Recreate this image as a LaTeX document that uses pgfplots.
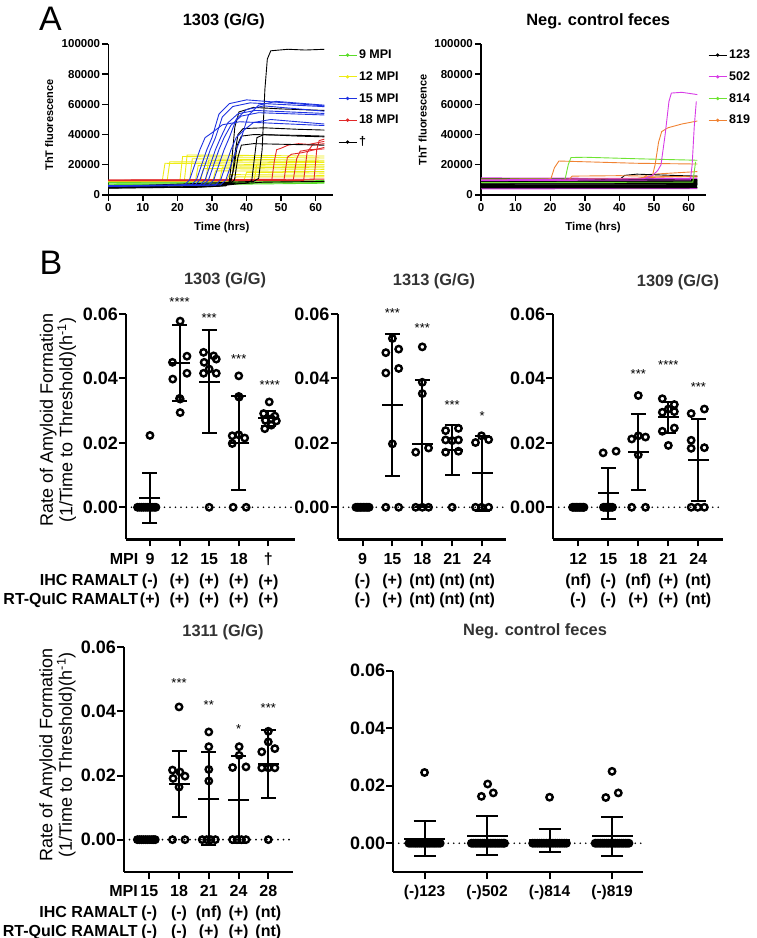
\documentclass[border=0pt]{standalone}
\usepackage{fontspec}
\setmainfont{Liberation Sans}
\usepackage{pgfplots}
\pgfplotsset{compat=1.18}
\definecolor{cgreen}{RGB}{90,220,40}
\definecolor{cyellow}{RGB}{238,236,20}
\definecolor{cblue}{RGB}{30,50,225}
\definecolor{cred}{RGB}{225,40,40}
\definecolor{cpink}{RGB}{215,60,230}
\definecolor{cgreenb}{RGB}{110,228,50}
\definecolor{corange}{RGB}{240,130,50}
\newcommand{\fs}[1]{\fontsize{#1}{#1}\selectfont}
\tikzset{stars/.style={font=\fs{13}}}
\pgfplotsset{
  cv/.style={forget plot, line width=0.9pt},
  bd/.style={forget plot, line width=1.3pt},
  panelA/.style={
    scale only axis, width=224.7pt, height=151pt,
    xmin=0, xmax=65, ymin=0, ymax=100000, scaled ticks=false,
    axis x line*=bottom, axis y line*=left,
    axis line style={line width=1.4pt},
    tick style={line width=1.4pt, black},
    tick align=outside, major tick length=6pt,
    xtick={0,10,20,30,40,50,60}, xticklabels={0,10,20,30,40,50,60},
    ytick={0,20000,40000,60000,80000,100000},
    yticklabels={0,20000,40000,60000,80000,100000},
    tick label style={font=\bfseries\fs{11.5}, inner sep=2pt},
    title style={font=\bfseries\fs{16.4}, anchor=center},
    xlabel={Time (hrs)},
    xlabel style={font=\bfseries\fs{11.5}, anchor=center},
    ylabel={ThT fluorescence},
    ylabel style={font=\bfseries\fs{11}, anchor=center},
    legend style={draw=none, fill=none, anchor=north west, font=\bfseries\fs{12.5}, row sep=7.5pt, inner sep=0pt},
    legend cell align=left,
    legend image code/.code={\draw[#1] (0pt,0pt) -- (18pt,0pt); \fill[#1] (9pt,0pt) circle (1.2pt);},
  },
  panelB/.style={
    scale only axis, ymin=-0.01, ymax=0.06, clip=false, scaled ticks=false,
    axis x line*=bottom, axis y line*=left,
    axis line style={line width=2.2pt},
    tick style={line width=2pt, black},
    tick align=outside, major tick length=7pt,
    ytick={0,0.02,0.04,0.06}, yticklabels={0.00,0.02,0.04,0.06},
    yticklabel style={font=\bfseries\fs{18}, inner sep=1pt},
    xtick={0,1,2,3,4},
    xticklabel style={font=\bfseries\fontsize{16}{18.5}\selectfont, align=center, yshift=-3pt},
    title style={font=\bfseries\fs{16.4}, anchor=center, color=black!80},
  },
  ylabB/.style={ylabel={Rate of Amyloid Formation\\(1/Time to Threshold)(h\textsuperscript{-1})},
    ylabel style={font=\fontsize{18}{19.5}\selectfont, align=center, anchor=center}},
  rowlab/.style={extra x ticks={#1},
    extra x tick labels={{MPI\\[3pt]IHC RAMALT\\RT-QuIC RAMALT}},
    extra x tick style={tick style={draw=none}, xticklabel style={anchor=north east, align=right}}},
  pts/.style={only marks, mark=o, mark size=3.2pt, mark options={line width=2.4pt, black}},
  mbar/.style={only marks, mark=-, mark size=10.5pt, mark options={line width=2pt, black},
     error bars/y dir=both, error bars/y explicit,
     error bars/error bar style={line width=2pt, black},
     error bars/error mark options={rotate=90, mark size=7.5pt, line width=2pt, black}},
  mbarN/.style={only marks, mark=-, mark size=20.5pt, mark options={line width=2pt, black},
     error bars/y dir=both, error bars/y explicit,
     error bars/error bar style={line width=2pt, black},
     error bars/error mark options={rotate=90, mark size=11pt, line width=2pt, black}},
  zl/.style={black, line width=1.8pt, line cap=round, dash pattern=on 0pt off 5.5pt},
}
\begin{document}
\begin{tikzpicture}
\useasboundingbox (0,0) rectangle (756pt,938pt);
\node[font=\fs{34}] at (50.5pt,919pt) {A};
\node[font=\fs{34}] at (51pt,675pt) {B};

% ---------------- Panel A left
\begin{axis}[panelA, at={(108.3pt,743pt)}, anchor=south west,
  title={1303 (G/G)}, title style={at={(axis description cs:0.514,1.113)}},
  xlabel style={at={(axis description cs:0.505,-0.2185)}},
  ylabel style={at={(axis description cs:-0.2626,0.4636)}},
  legend style={at={(1.022,0.975)}}]
% green 9 MPI
\addplot[cv, cgreen] coordinates {(0,8800)(20,8900)(40,9200)(62.5,9500)};
\addplot[cv, cgreen] coordinates {(0,8000)(30,8100)(45,8500)(62.5,8700)};
\addplot[cv, cgreen] coordinates {(0,7300)(35,7500)(50,8000)(62.5,8200)};
\addplot[cv, cgreen] coordinates {(0,6800)(40,7200)(62.5,7800)};
\addplot[cv, cgreen] coordinates {(0,8300)(62.5,9000)};
% yellow 12 MPI
\addplot[cv, cyellow] coordinates {(0,9100)(15.6,9200)(16.4,21000)(26,20800)(40,20300)(62.5,20000)};
\addplot[cv, cyellow] coordinates {(0,9000)(17.0,9100)(17.8,22000)(30,21800)(62.5,21500)};
\addplot[cv, cyellow] coordinates {(0,9200)(20.7,9300)(21.5,25500)(40,25000)(62.5,24500)};
\addplot[cv, cyellow] coordinates {(0,9100)(22.0,9200)(22.8,26500)(40,26200)(62.5,25800)};
\addplot[cv, cyellow] coordinates {(0,9000)(23.5,9100)(24.3,24000)(62.5,23000)};
\addplot[cv, cyellow] coordinates {(0,9200)(25.2,9300)(26.0,19500)(62.5,19000)};
\addplot[cv, cyellow] coordinates {(0,9000)(26.7,9200)(27.5,17500)(62.5,17000)};
\addplot[cv, cyellow] coordinates {(0,9100)(28.2,9300)(29.0,23000)(62.5,22000)};
\addplot[cv, cyellow] coordinates {(0,9000)(30.2,9200)(31.0,16000)(62.5,15500)};
\addplot[cv, cyellow] coordinates {(0,9200)(32.2,9300)(33.0,18500)(62.5,18000)};
\addplot[cv, cyellow] coordinates {(0,9000)(34.2,9300)(35.0,13500)(62.5,13000)};
\addplot[cv, cyellow] coordinates {(0,9100)(36.2,9400)(37.0,12000)(62.5,12000)};
\addplot[cv, cyellow] coordinates {(0,9000)(39.2,9500)(40.0,15000)(62.5,14500)};
\addplot[cv, cyellow] coordinates {(0,9200)(42.2,9600)(43.0,20500)(62.5,20000)};
% red 18 MPI
\addplot[cv, cred] coordinates {(0,9800)(47.3,9900)(48,22000)(48.7,30000)(50,31000)(52,33000)(55,34000)(58,33500)(62.5,35500)};
\addplot[cv, cred] coordinates {(0,9500)(50.8,9600)(51.8,25000)(53,27000)(56,28000)(62.5,31500)};
\addplot[cv, cred] coordinates {(0,9700)(53.5,9800)(54.5,24000)(55.5,29000)(58,30000)(62.5,30500)};
\addplot[cv, cred] coordinates {(0,9400)(56.5,9500)(57.5,28000)(59,33000)(62.5,34000)};
\addplot[cv, cred] coordinates {(0,9600)(59.5,10000)(60.3,30000)(61,36000)(62.5,37000)};
\addplot[cv, cred] coordinates {(0,9900)(62.5,10500)};
% black dagger
\addplot[cv, black] coordinates {(0,4800)(25,5000)(33,6000)(35,7500)(36,15000)(36.8,30000)(37.5,40000)(39,44000)(45,44500)(55,43500)(62.5,43000)};
\addplot[cv, black] coordinates {(0,5000)(34,6500)(35.5,9000)(36.5,20000)(37.3,33000)(38.5,39000)(42,40000)(55,39500)(62.5,39000)};
\addplot[cv, black] coordinates {(0,5200)(35,7000)(36.5,10000)(37.5,25000)(38.5,33000)(42,34000)(62.5,33000)};
\addplot[cv, black] coordinates {(0,4600)(34,6000)(35,9000)(35.8,25000)(36.6,45000)(37.8,55000)(42,58000)(50,57000)(62.5,56000)};
\addplot[cv, black] coordinates {(0,5000)(40,8000)(41.5,9500)(42.3,25000)(43,38000)(45,40000)(55,39000)(62.5,38500)};
\addplot[cv, black] coordinates {(0,5500)(42,9000)(43.5,11000)(44.5,30000)(45.3,70000)(46,90000)(47,95500)(52,96500)(57,96000)(62.5,96500)};
\addplot[cv, black] coordinates {(0,4500)(30,5500)(38,7500)(45,8500)(62.5,9000)};
% blue 15 MPI
\addplot[cv, cblue] coordinates {(0,6000)(22,6500)(23.5,10000)(25,20000)(26.5,30000)(28,38000)(30,41200)(33,46500)(38,48500)(62.5,46000)};
\addplot[cv, cblue] coordinates {(0,6200)(24,6600)(25.5,10000)(27,20000)(28.5,30000)(30,38000)(32,53500)(35,60500)(40,63000)(62.5,59000)};
\addplot[cv, cblue] coordinates {(0,5800)(25,6400)(26.5,10000)(28,20000)(29.5,30000)(31,38000)(33,51800)(36,58600)(41,61000)(62.5,58500)};
\addplot[cv, cblue] coordinates {(0,6000)(26.5,6500)(28,10000)(29.5,20000)(31,30000)(32.5,38000)(34.5,47600)(37.5,53800)(42.5,56000)(62.5,54000)};
\addplot[cv, cblue] coordinates {(0,6100)(27.5,6600)(29,10000)(30.5,20000)(32,30000)(33.5,38000)(35.5,46300)(38.5,52300)(43.5,54500)(62.5,53000)};
\addplot[cv, cblue] coordinates {(0,5900)(29,6500)(30.5,10000)(32,20000)(33.5,30000)(35,38000)(37,50200)(40,56600)(45,59000)(62.5,55500)};
\addplot[cv, cblue] coordinates {(0,6000)(31,6500)(32.5,10000)(34,20000)(35.5,30000)(37,38000)(39,42500)(42,48000)(47,50000)(62.5,47000)};
\addplot[cv, cblue] coordinates {(0,6100)(32.5,6700)(34,10000)(35.5,20000)(37,30000)(38.5,38000)(40.5,52700)(43.5,59500)(48.5,62000)(62.5,59500)};
\addlegendimage{cgreen, line width=0.9pt}\addlegendentry{9 MPI}
\addlegendimage{cyellow, line width=0.9pt}\addlegendentry{12 MPI}
\addlegendimage{cblue, line width=0.9pt}\addlegendentry{15 MPI}
\addlegendimage{cred, line width=0.9pt}\addlegendentry{18 MPI}
\addlegendimage{black, line width=0.9pt}\addlegendentry{\textdagger}
\end{axis}

% ---------------- Panel A right
\begin{axis}[panelA, at={(481pt,743pt)}, anchor=south west, width=225pt,
  title={Neg. control feces}, title style={at={(axis description cs:0.521,1.113)}},
  xlabel style={at={(axis description cs:0.498,-0.2185)}},
  ylabel style={at={(axis description cs:-0.259,0.497)}},
  legend style={at={(1.009,0.975)}}]
\addplot[bd, cpink] coordinates {(0,4200)(62.5,4300)};
\addplot[bd, cpink] coordinates {(0,11200)(40,10900)(62.5,11000)};
\addplot[bd, cgreenb] coordinates {(0,5600)(38,5600)(39,5000)(62.5,5200)};
\addplot[cv, corange] coordinates {(0,9000)(46,9500)(48,13500)(55,14500)(62.5,15500)};
\addplot[cv, corange] coordinates {(0,9300)(44,10000)(47,11500)(62.5,12500)};
\addplot[bd, black] coordinates {(0,10800)(62.5,10000)};
\addplot[bd, black] coordinates {(0,10100)(62.5,9600)};
\addplot[bd, black] coordinates {(0,9400)(62.5,9000)};
\addplot[bd, black] coordinates {(0,8700)(62.5,8400)};
\addplot[bd, black] coordinates {(0,8000)(62.5,7800)};
\addplot[bd, black] coordinates {(0,7300)(62.5,7200)};
\addplot[bd, black] coordinates {(0,6700)(62.5,6600)};
\addplot[bd, black] coordinates {(0,6000)(62.5,6000)};
\addplot[bd, black] coordinates {(0,5400)(62.5,5400)};
\addplot[bd, black] coordinates {(0,4800)(62.5,4900)};
\addplot[cv, black] coordinates {(0,9000)(39.5,9200)(41.5,13000)(45,13800)(55,13000)(62.5,12500)};
\addplot[cv, corange] coordinates {(0,9600)(25.3,9700)(26.3,12500)(40,12800)(62.5,12000)};
\addplot[cv, corange] coordinates {(0,10500)(20.2,10800)(21.2,18000)(22.5,22500)(30,22000)(45,21000)(62.5,20500)};
\addplot[cv, cgreenb] coordinates {(0,10500)(24.3,10600)(25.2,20000)(26,24800)(30,25000)(45,24000)(62.5,23000)};
\addplot[cv, cgreenb] coordinates {(0,8200)(61.2,8500)(62,22000)};
\addplot[cv, corange] coordinates {(0,9800)(45,11000)(49.5,12500)(50.3,20000)(51.3,35000)(52.2,42000)(54,44500)(58,47000)(62.5,49000)};
\addplot[cv, cpink] coordinates {(0,10000)(47,10800)(49.5,13000)(51,16000)(52,20000)(53.2,40000)(54.3,62000)(55,67500)(58,68000)(62.5,66500)};
\addplot[cv, cpink] coordinates {(0,9500)(60.5,10000)(61,20000)(61.6,45000)(62.2,62000)};
\addlegendimage{black, line width=0.9pt}\addlegendentry{123}
\addlegendimage{cpink, line width=0.9pt}\addlegendentry{502}
\addlegendimage{cgreenb, line width=0.9pt}\addlegendentry{814}
\addlegendimage{corange, line width=0.9pt}\addlegendentry{819}
\end{axis}

% ---------------- Panel B 1303
\begin{axis}[panelB, ylabB, at={(126pt,398.5pt)}, anchor=south west, width=169pt, height=225.5pt,
  xmin=-0.81, xmax=4.9,
  title={1303 (G/G)}, title style={at={(axis description cs:0.586,1.124)}},
  ylabel style={at={(axis description cs:-0.402,0.529)}},
  xticklabels={{9\\[3pt](-)\\(+)},{12\\[3pt](+)\\(+)},{15\\[3pt](+)\\(+)},{18\\[3pt](+)\\(+)},{\textdagger\\[3pt](+)\\(+)}},
  rowlab={-0.277}]
\addplot[zl] coordinates {(-0.81,0)(4.9,0)};
\addplot[pts] coordinates {(-0.42,0)(-0.35,0)(-0.28,0)(-0.21,0)(-0.14,0)(-0.07,0)(0,0)(0.07,0)(0.14,0)(0.2,0)(0,0.0223)
 (1.02,0.0578)(0.76,0.045)(1.25,0.0469)(0.77,0.0398)(1.25,0.0416)(1.02,0.0336)(1.0,0.0338)(1.02,0.0294)
 (1.81,0.0481)(2.15,0.047)(1.83,0.045)(2.24,0.046)(2.0,0.0429)(1.81,0.0416)(2.24,0.0416)(2.0,0)
 (3.0,0.0408)(3.0,0.0344)(3.01,0.0342)(2.78,0.0222)(3.0,0.0225)(3.2,0.0215)(2.78,0.0198)(2.81,0)(3.25,0)
 (4.03,0.0327)(3.84,0.0291)(4.22,0.0283)(3.9,0.027)(4.1,0.0275)(4.27,0.0268)(3.88,0.0244)(4.1,0.0255)};
\addplot[mbar] coordinates {(0,0.0029)+-(0,0.0078) (1,0.0448)+-(0,0.0117) (2,0.039)+-(0,0.016) (3,0.02)+-(0,0.0145) (4,0.0276)+-(0,0.0024)};
\node[stars] at (axis cs:1,0.0636) {****};
\node[stars] at (axis cs:2,0.0587) {***};
\node[stars] at (axis cs:3,0.046) {***};
\node[stars] at (axis cs:4.05,0.0381) {****};
\end{axis}

% ---------------- Panel B 1313
\begin{axis}[panelB, at={(337.7pt,398.5pt)}, anchor=south west, width=168.3pt, height=225.5pt,
  xmin=-0.83, xmax=4.8,
  title={1313 (G/G)}, title style={at={(axis description cs:0.572,1.118)}},
  xticklabels={{9\\[3pt](-)\\(-)},{15\\[3pt](+)\\(+)},{18\\[3pt](nt)\\(nt)},{21\\[3pt](nt)\\(nt)},{24\\[3pt](nt)\\(nt)}}]
\addplot[zl] coordinates {(-0.83,0)(4.8,0)};
\addplot[pts] coordinates {(-0.22,0)(-0.17,0)(-0.12,0)(-0.07,0)(-0.02,0)(0.03,0)(0.08,0)(0.13,0)(0.18,0)(0.22,0)
 (1.0,0.0524)(0.78,0.048)(1.21,0.0491)(0.78,0.0417)(1.21,0.0431)(1.0,0.0197)(0.78,0)(1.21,0)
 (2.0,0.0498)(2.0,0.0388)(2.0,0.0353)(1.78,0.0171)(2.21,0.0184)(1.78,0)(2.0,0)(2.21,0)
 (2.78,0.0238)(3.21,0.0245)(2.78,0.0209)(3.0,0.0207)(3.21,0.0209)(2.78,0.0171)(3.21,0.0174)(3.0,0)
 (3.78,0.0201)(3.98,0.0222)(4.22,0.021)(3.78,0)(3.98,0)(4.22,0)};
\addplot[mbar] coordinates {(1,0.0318)+-(0,0.022) (2,0.0198)+-(0,0.0196) (3,0.0178)+-(0,0.0078) (4,0.0105)+-(0,0.0117)};
\node[stars] at (axis cs:1,0.0602) {***};
\node[stars] at (axis cs:2,0.0555) {***};
\node[stars] at (axis cs:3,0.0318) {***};
\node[stars] at (axis cs:4,0.0282) {*};
\end{axis}

% ---------------- Panel B 1309
\begin{axis}[panelB, at={(553.3pt,398.5pt)}, anchor=south west, width=169.4pt, height=225.5pt,
  xmin=-0.83, xmax=4.81,
  title={1309 (G/G)}, title style={at={(axis description cs:0.736,1.115)}},
  xticklabels={{12\\[3pt](nf)\\(-)},{15\\[3pt](-)\\(-)},{18\\[3pt](nf)\\(+)},{21\\[3pt](+)\\(+)},{24\\[3pt](nt)\\(nt)}}]
\addplot[zl] coordinates {(-0.83,0)(4.81,0)};
\addplot[pts] coordinates {(-0.19,0)(-0.145,0)(-0.1,0)(-0.055,0)(-0.01,0)(0.035,0)(0.08,0)(0.125,0)(0.17,0)(0.19,0)
 (0.83,0.0169)(1.26,0.0174)(0.84,0)(0.89,0)(0.94,0)(0.99,0)(1.04,0)(1.09,0)(1.14,0)
 (2.0,0.0347)(1.78,0.0212)(2.0,0.0222)(2.24,0.0218)(2.0,0.0163)(1.78,0)(2.24,0)
 (2.8,0.0337)(3.2,0.0319)(2.8,0.0295)(3.2,0.0297)(3.0,0.0305)(2.8,0.0236)(3.2,0.0246)(3.0,0.0192)
 (3.76,0.0291)(4.2,0.0305)(3.76,0.0208)(3.76,0.0183)(4.2,0.0185)(3.76,0)(3.98,0)(4.2,0)};
\addplot[mbar] coordinates {(1,0.0043)+-(0,0.0079) (2,0.0172)+-(0,0.0119) (3,0.028)+-(0,0.0048) (4,0.0146)+-(0,0.0128)};
\node[stars] at (axis cs:2,0.0415) {***};
\node[stars] at (axis cs:3,0.0443) {****};
\node[stars] at (axis cs:4,0.0372) {***};
\end{axis}

% ---------------- Panel B 1311
\begin{axis}[panelB, ylabB, at={(124pt,66.3pt)}, anchor=south west, width=169.3pt, height=224.4pt,
  xmin=-0.85, xmax=4.84,
  title={1311 (G/G)}, title style={at={(axis description cs:0.585,1.04)}},
  ylabel style={at={(axis description cs:-0.393,0.52)}},
  xticklabels={{15\\[3pt](-)\\(-)},{18\\[3pt](-)\\(-)},{21\\[3pt](nf)\\(+)},{24\\[3pt](+)\\(+)},{28\\[3pt](nt)\\(nt)}},
  rowlab={-0.27}]
\addplot[zl] coordinates {(-0.85,0)(4.84,0)};
\addplot[pts] coordinates {(-0.4,0)(-0.33,0)(-0.26,0)(-0.19,0)(-0.12,0)(-0.05,0)(0.02,0)(0.09,0)(0.15,0)(0.2,0)
 (1.0,0.0414)(0.78,0.0217)(1.03,0.0211)(1.2,0.0198)(0.8,0.0191)(1.0,0.0164)(0.78,0)(1.2,0)
 (2.0,0.0336)(2.0,0.029)(2.0,0.0219)(2.0,0.0183)(1.78,0)(1.93,0)(2.07,0)(2.22,0)
 (3.02,0.029)(3.02,0.0263)(2.8,0.0225)(3.25,0.0227)(2.8,0)(2.95,0)(3.1,0)(3.25,0)
 (4.0,0.0338)(4.0,0.0305)(3.78,0.0274)(4.22,0.0284)(3.78,0.0224)(4.0,0.0224)(4.22,0.0224)(4.0,0)};
\addplot[mbar] coordinates {(1,0.0174)+-(0,0.0103) (2,0.0128)+-(0,0.0146) (3,0.0125)+-(0,0.0137) (4,0.0236)+-(0,0.0106)};
\node[stars] at (axis cs:1,0.049) {***};
\node[stars] at (axis cs:2,0.042) {**};
\node[stars] at (axis cs:3,0.0344) {*};
\node[stars] at (axis cs:4,0.0412) {***};
\end{axis}

% ---------------- Panel B neg control
\begin{axis}[panelB, at={(393.3pt,66pt)}, anchor=south west, width=250pt, height=201.3pt,
  xmin=-0.5, xmax=3.5, xtick={0,1,2,3},
  title={Neg. control feces}, title style={at={(axis description cs:0.567,1.164)}},
  xticklabels={(-)123,(-)502,(-)814,(-)819},
  xticklabel style={font=\bfseries\fs{15.5}}]
\addplot[zl] coordinates {(-0.5,0)(3.5,0)};
\addplot[pts] coordinates {(-0.25,0)(-0.217,0)(-0.183,0)(-0.15,0)(-0.117,0)(-0.083,0)(-0.05,0)(-0.017,0)(0.017,0)(0.05,0)(0.083,0)(0.117,0)(0.15,0)(0.183,0)(0.217,0)(0.25,0)(0,0.0246)
 (0.75,0)(0.78,0)(0.81,0)(0.84,0)(0.87,0)(0.9,0)(0.93,0)(0.96,0)(0.99,0)(1.02,0)(1.05,0)(1.08,0)(1.11,0)(1.14,0)(1.17,0)(1.2,0)(1.23,0)(1.26,0)(1.28,0)
 (0.91,0.0163)(1.01,0.0206)(1.1,0.0175)
 (1.73,0)(1.766,0)(1.802,0)(1.838,0)(1.874,0)(1.91,0)(1.946,0)(1.982,0)(2.018,0)(2.054,0)(2.09,0)(2.126,0)(2.162,0)(2.198,0)(2.234,0)(2.27,0)(2.0,0.016)
 (2.73,0)(2.76,0)(2.79,0)(2.82,0)(2.85,0)(2.88,0)(2.91,0)(2.94,0)(2.97,0)(3.0,0)(3.03,0)(3.06,0)(3.09,0)(3.12,0)(3.15,0)(3.18,0)(3.21,0)(3.24,0)(3.27,0)
 (3.0,0.025)(2.9,0.0159)(3.1,0.0175)};
\addplot[mbarN] coordinates {(0,0.0016)+-(0,0.0062) (1,0.0026)+-(0,0.0067) (2,0.0011)+-(0,0.004) (3,0.0024)+-(0,0.0067)};
\end{axis}
\end{tikzpicture}
\end{document}
